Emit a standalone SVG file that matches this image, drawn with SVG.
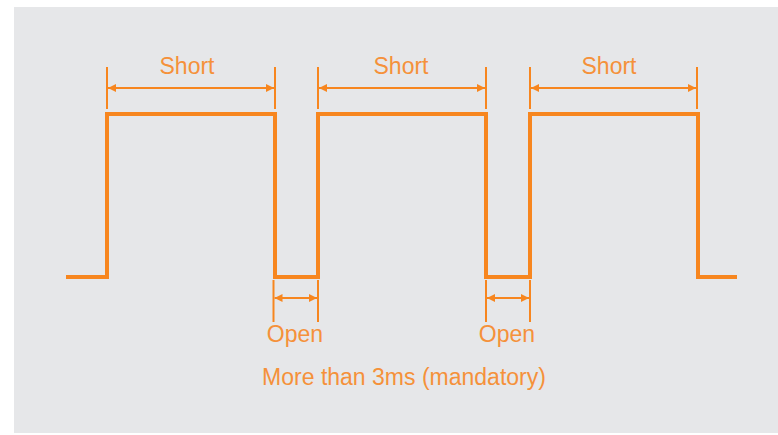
<svg xmlns="http://www.w3.org/2000/svg" width="778" height="435" viewBox="0 0 778 435">
<defs>
<style>
.wave{fill:none;stroke:#F7861F;stroke-width:4;stroke-linejoin:miter}
.ext{stroke:#F7861F;stroke-width:2;fill:none}
.dim{stroke:#F7861F;stroke-width:2;fill:none;marker-start:url(#ah);marker-end:url(#ah)}
.lbl{font-family:"Liberation Sans",Arial,sans-serif;font-size:23px;fill:#F5913A;text-anchor:middle}
</style>
<marker id="ah" viewBox="0 0 8 8" refX="8" refY="4" markerWidth="4" markerHeight="4" orient="auto-start-reverse" markerUnits="strokeWidth">
<path d="M0,0 L8,4 L0,8 Z" fill="#F7861F"/>
</marker>
</defs>
<rect x="14" y="7" width="764" height="426" fill="#E6E7E9"/>
<g id="waveform">
<path class="wave" d="M66,277 H107 V114 H275 V277 H318 V114 H486 V277 H530 V114 H698 V277 H737"/>
</g>
<g id="connectors">
<line class="ext" x1="107" y1="67" x2="107" y2="109"/>
<line class="ext" x1="275" y1="67" x2="275" y2="109"/>
<line class="dim" x1="108" y1="88" x2="274" y2="88"/>
<line class="ext" x1="318" y1="67" x2="318" y2="109"/>
<line class="ext" x1="486" y1="67" x2="486" y2="109"/>
<line class="dim" x1="319" y1="88" x2="485" y2="88"/>
<line class="ext" x1="530" y1="67" x2="530" y2="109"/>
<line class="ext" x1="697" y1="67" x2="697" y2="109"/>
<line class="dim" x1="531" y1="88" x2="696" y2="88"/>
<line class="ext" x1="273.5" y1="280" x2="273.5" y2="322"/>
<line class="ext" x1="318" y1="280" x2="318" y2="322"/>
<line class="dim" x1="274.5" y1="298" x2="317" y2="298"/>
<line class="ext" x1="486" y1="280" x2="486" y2="322"/>
<line class="ext" x1="530" y1="280" x2="530" y2="322"/>
<line class="dim" x1="487" y1="298" x2="529" y2="298"/>
</g>
<g id="short1"><text class="lbl" x="187" y="74">Short</text></g>
<g id="short2"><text class="lbl" x="401" y="74">Short</text></g>
<g id="short3"><text class="lbl" x="609" y="74">Short</text></g>
<g id="open1"><text class="lbl" x="295" y="342">Open</text></g>
<g id="open2"><text class="lbl" x="507" y="342">Open</text></g>
<g id="note"><text class="lbl" x="404" y="385">More than 3ms (mandatory)</text></g>
</svg>
